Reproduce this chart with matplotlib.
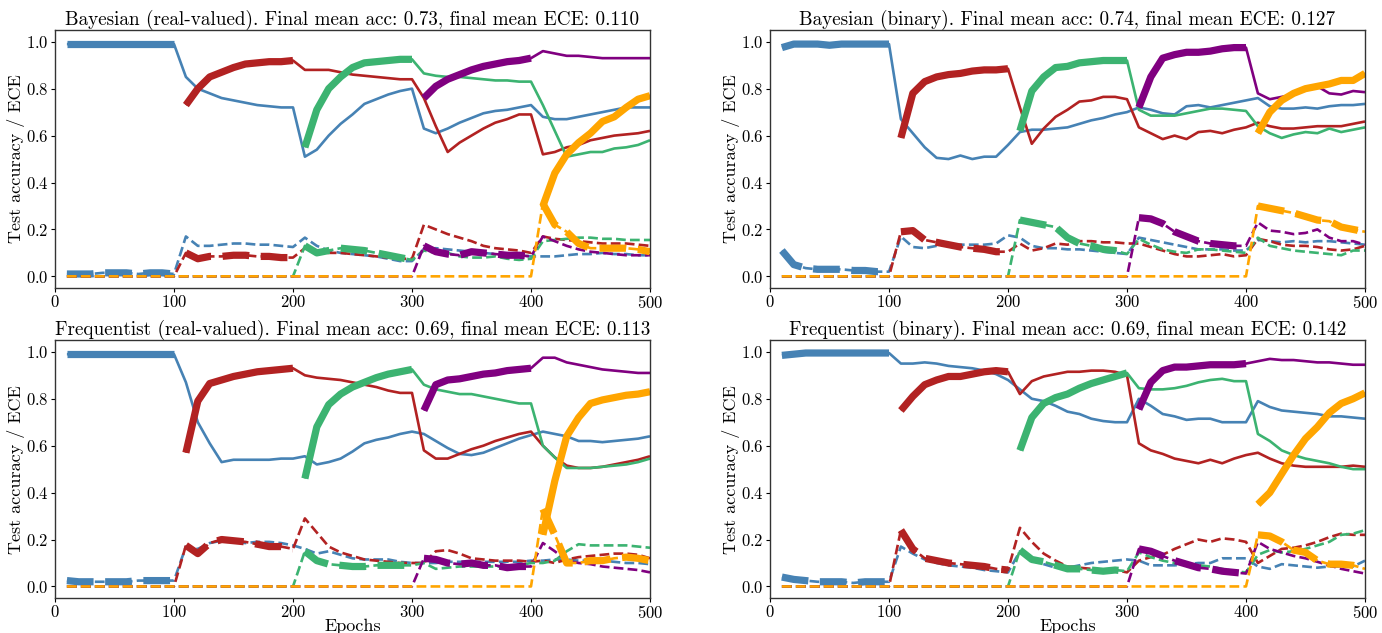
import numpy as np
import matplotlib
matplotlib.use("Agg")
import matplotlib.pyplot as plt

plt.rcParams['font.family'] = ['cmr10', 'DejaVu Serif']
plt.rcParams['axes.formatter.use_mathtext'] = True
plt.rcParams['mathtext.fontset'] = 'cm'

epochs = list(range(10, 510, 10))
colors = ['#4682B4', '#B22222', '#3CB371', '#800080', '#FFA500']
titles = ['Bayesian (real-valued). Final mean acc: 0.73, final mean ECE: 0.110',
          'Bayesian (binary). Final mean acc: 0.74, final mean ECE: 0.127',
          'Frequentist (real-valued). Final mean acc: 0.69, final mean ECE: 0.113',
          'Frequentist (binary). Final mean acc: 0.69, final mean ECE: 0.142']
xticks = [0, 100, 200, 300, 400, 500]
yticks = [0.0, 0.2, 0.4, 0.6, 0.8, 1.0]

# ---------- Bayesian (real-valued) ----------
# accuracy values listed from the first training epoch of each task
br_acc = [
    [0.99, 0.99, 0.99, 0.99, 0.99, 0.99, 0.99, 0.99, 0.99, 0.99,
     0.85, 0.80, 0.78, 0.76, 0.75, 0.74, 0.73, 0.725, 0.72, 0.72,
     0.51, 0.54, 0.60, 0.65, 0.69, 0.735, 0.755, 0.775, 0.79, 0.80,
     0.63, 0.61, 0.63, 0.655, 0.675, 0.695, 0.705, 0.71, 0.72, 0.73,
     0.68, 0.67, 0.67, 0.68, 0.69, 0.70, 0.71, 0.72, 0.72, 0.72],
    [0.73, 0.80, 0.85, 0.87, 0.89, 0.905, 0.91, 0.915, 0.915, 0.92,
     0.88, 0.88, 0.88, 0.87, 0.86, 0.855, 0.85, 0.845, 0.84, 0.84,
     0.76, 0.64, 0.53, 0.57, 0.60, 0.63, 0.655, 0.67, 0.69, 0.69,
     0.52, 0.53, 0.55, 0.56, 0.58, 0.59, 0.60, 0.605, 0.61, 0.62],
    [0.55, 0.71, 0.80, 0.85, 0.89, 0.91, 0.915, 0.92, 0.925, 0.925,
     0.865, 0.855, 0.85, 0.85, 0.845, 0.84, 0.835, 0.835, 0.83, 0.83,
     0.73, 0.62, 0.51, 0.52, 0.53, 0.53, 0.545, 0.55, 0.56, 0.58],
    [0.76, 0.81, 0.84, 0.86, 0.88, 0.895, 0.905, 0.915, 0.92, 0.93,
     0.96, 0.95, 0.94, 0.94, 0.935, 0.93, 0.93, 0.93, 0.93, 0.93],
    [0.30, 0.44, 0.52, 0.57, 0.61, 0.66, 0.68, 0.72, 0.755, 0.77],
]
# ECE values listed from the first training epoch (0.0 before it)
br_ece = [
    [0.01, 0.01, 0.01, 0.015, 0.015, 0.015, 0.01, 0.015, 0.015, 0.01,
     0.17, 0.13, 0.13, 0.135, 0.14, 0.14, 0.135, 0.135, 0.13, 0.125,
     0.165, 0.13, 0.11, 0.10, 0.095, 0.09, 0.085, 0.075, 0.065, 0.065,
     0.115, 0.12, 0.115, 0.11, 0.105, 0.10, 0.095, 0.09, 0.09, 0.085,
     0.085, 0.085, 0.09, 0.095, 0.095, 0.10, 0.095, 0.095, 0.09, 0.09],
    [0.10, 0.075, 0.085, 0.085, 0.09, 0.09, 0.085, 0.085, 0.08, 0.08,
     0.12, 0.105, 0.10, 0.10, 0.095, 0.09, 0.085, 0.08, 0.075, 0.075,
     0.22, 0.20, 0.18, 0.165, 0.15, 0.13, 0.12, 0.115, 0.11, 0.10,
     0.17, 0.16, 0.155, 0.15, 0.145, 0.14, 0.14, 0.14, 0.135, 0.13],
    [0.13, 0.10, 0.11, 0.12, 0.115, 0.11, 0.10, 0.09, 0.08, 0.07,
     0.11, 0.10, 0.10, 0.085, 0.08, 0.08, 0.085, 0.075, 0.07, 0.075,
     0.15, 0.155, 0.16, 0.165, 0.165, 0.16, 0.16, 0.155, 0.155, 0.155],
    [0.13, 0.105, 0.095, 0.09, 0.105, 0.10, 0.095, 0.09, 0.09, 0.085,
     0.17, 0.15, 0.13, 0.115, 0.105, 0.10, 0.095, 0.09, 0.09, 0.09],
    [0.31, 0.22, 0.19, 0.14, 0.12, 0.12, 0.12, 0.12, 0.115, 0.105],
]

# ---------- Bayesian (binary) ----------
bb_acc = [
    [0.975, 0.99, 0.99, 0.99, 0.985, 0.99, 0.99, 0.99, 0.99, 0.99,
     0.67, 0.61, 0.55, 0.505, 0.50, 0.515, 0.50, 0.51, 0.51, 0.56,
     0.615, 0.625, 0.625, 0.63, 0.635, 0.65, 0.665, 0.675, 0.69, 0.70,
     0.72, 0.71, 0.695, 0.69, 0.725, 0.73, 0.72, 0.73, 0.74, 0.75,
     0.76, 0.725, 0.715, 0.715, 0.72, 0.715, 0.725, 0.73, 0.73, 0.735],
    [0.59, 0.78, 0.83, 0.85, 0.86, 0.865, 0.875, 0.88, 0.88, 0.885,
     0.72, 0.565, 0.63, 0.68, 0.71, 0.745, 0.75, 0.765, 0.765, 0.755,
     0.635, 0.61, 0.585, 0.60, 0.585, 0.615, 0.62, 0.61, 0.625, 0.635,
     0.655, 0.64, 0.63, 0.63, 0.635, 0.64, 0.64, 0.64, 0.65, 0.66],
    [0.62, 0.79, 0.85, 0.89, 0.895, 0.91, 0.915, 0.92, 0.92, 0.92,
     0.71, 0.685, 0.685, 0.685, 0.695, 0.705, 0.715, 0.715, 0.71, 0.705,
     0.64, 0.61, 0.59, 0.605, 0.615, 0.61, 0.63, 0.615, 0.625, 0.635],
    [0.72, 0.85, 0.93, 0.945, 0.955, 0.955, 0.96, 0.97, 0.975, 0.975,
     0.78, 0.755, 0.765, 0.775, 0.80, 0.81, 0.78, 0.775, 0.79, 0.785],
    [0.61, 0.70, 0.75, 0.78, 0.80, 0.81, 0.82, 0.835, 0.835, 0.865],
]
bb_ece = [
    [0.11, 0.05, 0.035, 0.03, 0.03, 0.03, 0.025, 0.025, 0.02, 0.02,
     0.17, 0.125, 0.12, 0.13, 0.135, 0.135, 0.135, 0.135, 0.14, 0.175,
     0.165, 0.13, 0.12, 0.12, 0.115, 0.115, 0.11, 0.105, 0.10, 0.095,
     0.165, 0.155, 0.145, 0.135, 0.125, 0.115, 0.115, 0.115, 0.11, 0.11,
     0.155, 0.15, 0.145, 0.15, 0.145, 0.15, 0.15, 0.145, 0.14, 0.135],
    [0.19, 0.195, 0.155, 0.145, 0.135, 0.125, 0.12, 0.115, 0.105, 0.105,
     0.14, 0.11, 0.12, 0.14, 0.135, 0.15, 0.15, 0.145, 0.145, 0.14,
     0.14, 0.125, 0.11, 0.095, 0.085, 0.085, 0.09, 0.095, 0.085, 0.09,
     0.16, 0.15, 0.135, 0.13, 0.13, 0.125, 0.115, 0.11, 0.115, 0.13],
    [0.24, 0.23, 0.22, 0.21, 0.165, 0.14, 0.13, 0.115, 0.11, 0.095,
     0.16, 0.135, 0.115, 0.105, 0.10, 0.115, 0.115, 0.11, 0.105, 0.10,
     0.165, 0.13, 0.12, 0.11, 0.105, 0.10, 0.095, 0.09, 0.11, 0.11],
    [0.25, 0.245, 0.225, 0.19, 0.17, 0.15, 0.14, 0.135, 0.13, 0.13,
     0.23, 0.195, 0.19, 0.18, 0.185, 0.20, 0.165, 0.15, 0.15, 0.135],
    [0.30, 0.29, 0.28, 0.27, 0.255, 0.24, 0.235, 0.21, 0.20, 0.19],
]

# ---------- Frequentist (real-valued) ----------
fr_acc = [
    [0.99, 0.99, 0.99, 0.99, 0.99, 0.99, 0.99, 0.99, 0.99, 0.99,
     0.87, 0.70, 0.61, 0.53, 0.54, 0.54, 0.54, 0.54, 0.545, 0.545,
     0.555, 0.52, 0.53, 0.545, 0.575, 0.61, 0.625, 0.635, 0.65, 0.66,
     0.65, 0.62, 0.59, 0.565, 0.56, 0.57, 0.59, 0.61, 0.63, 0.645,
     0.66, 0.65, 0.64, 0.62, 0.62, 0.615, 0.62, 0.625, 0.63, 0.64],
    [0.57, 0.79, 0.865, 0.88, 0.895, 0.905, 0.915, 0.92, 0.925, 0.93,
     0.90, 0.89, 0.885, 0.88, 0.87, 0.86, 0.85, 0.835, 0.825, 0.825,
     0.58, 0.545, 0.545, 0.565, 0.585, 0.60, 0.62, 0.635, 0.65, 0.66,
     0.60, 0.55, 0.515, 0.505, 0.505, 0.51, 0.52, 0.53, 0.54, 0.555],
    [0.46, 0.68, 0.775, 0.82, 0.85, 0.87, 0.89, 0.905, 0.915, 0.925,
     0.86, 0.84, 0.83, 0.82, 0.82, 0.81, 0.80, 0.79, 0.78, 0.78,
     0.60, 0.55, 0.505, 0.505, 0.505, 0.51, 0.515, 0.52, 0.53, 0.545],
    [0.75, 0.86, 0.88, 0.885, 0.895, 0.905, 0.91, 0.92, 0.925, 0.93,
     0.975, 0.975, 0.955, 0.945, 0.935, 0.925, 0.92, 0.915, 0.91, 0.91],
    [0.22, 0.45, 0.64, 0.72, 0.78, 0.795, 0.805, 0.815, 0.82, 0.83],
]
fr_ece = [
    [0.025, 0.02, 0.02, 0.02, 0.02, 0.02, 0.025, 0.025, 0.025, 0.025,
     0.17, 0.16, 0.185, 0.195, 0.19, 0.185, 0.19, 0.19, 0.185, 0.175,
     0.16, 0.14, 0.15, 0.135, 0.12, 0.115, 0.115, 0.115, 0.105, 0.10,
     0.10, 0.10, 0.105, 0.105, 0.105, 0.105, 0.105, 0.105, 0.105, 0.11,
     0.11, 0.115, 0.115, 0.11, 0.11, 0.11, 0.105, 0.10, 0.10, 0.095],
    [0.175, 0.14, 0.185, 0.20, 0.195, 0.19, 0.18, 0.17, 0.17, 0.16,
     0.29, 0.23, 0.17, 0.145, 0.13, 0.115, 0.11, 0.105, 0.10, 0.10,
     0.10, 0.15, 0.155, 0.14, 0.12, 0.115, 0.11, 0.11, 0.11, 0.105,
     0.11, 0.10, 0.115, 0.125, 0.13, 0.135, 0.14, 0.14, 0.135, 0.12],
    [0.15, 0.11, 0.095, 0.09, 0.085, 0.085, 0.09, 0.09, 0.09, 0.09,
     0.10, 0.075, 0.08, 0.085, 0.085, 0.085, 0.085, 0.085, 0.09, 0.10,
     0.10, 0.11, 0.15, 0.18, 0.175, 0.175, 0.175, 0.175, 0.17, 0.165],
    [0.12, 0.115, 0.10, 0.095, 0.10, 0.09, 0.09, 0.08, 0.085, 0.085,
     0.185, 0.15, 0.11, 0.10, 0.095, 0.085, 0.08, 0.075, 0.07, 0.06],
    [0.33, 0.22, 0.10, 0.10, 0.11, 0.11, 0.12, 0.125, 0.12, 0.11],
]

# ---------- Frequentist (binary) ----------
fb_acc = [
    [0.985, 0.99, 0.995, 0.995, 0.995, 0.995, 0.995, 0.995, 0.995, 0.995,
     0.95, 0.95, 0.955, 0.95, 0.94, 0.935, 0.93, 0.92, 0.905, 0.88,
     0.84, 0.80, 0.79, 0.77, 0.745, 0.735, 0.715, 0.705, 0.70, 0.70,
     0.80, 0.77, 0.735, 0.725, 0.71, 0.715, 0.715, 0.70, 0.70, 0.70,
     0.79, 0.765, 0.75, 0.745, 0.74, 0.735, 0.725, 0.725, 0.72, 0.715],
    [0.75, 0.81, 0.86, 0.88, 0.895, 0.895, 0.905, 0.915, 0.92, 0.915,
     0.82, 0.875, 0.895, 0.905, 0.915, 0.915, 0.92, 0.92, 0.915, 0.90,
     0.61, 0.58, 0.565, 0.545, 0.535, 0.525, 0.54, 0.525, 0.545, 0.56,
     0.57, 0.545, 0.525, 0.515, 0.51, 0.51, 0.51, 0.51, 0.515, 0.51],
    [0.58, 0.72, 0.78, 0.805, 0.82, 0.845, 0.865, 0.88, 0.895, 0.91,
     0.845, 0.84, 0.84, 0.845, 0.855, 0.87, 0.88, 0.885, 0.875, 0.875,
     0.65, 0.62, 0.58, 0.56, 0.545, 0.535, 0.525, 0.51, 0.50, 0.50],
    [0.755, 0.87, 0.92, 0.935, 0.935, 0.94, 0.945, 0.945, 0.945, 0.95,
     0.96, 0.97, 0.965, 0.965, 0.96, 0.955, 0.955, 0.95, 0.945, 0.945],
    [0.35, 0.40, 0.48, 0.56, 0.63, 0.68, 0.74, 0.78, 0.80, 0.825],
]
fb_ece = [
    [0.04, 0.03, 0.025, 0.02, 0.02, 0.02, 0.015, 0.02, 0.02, 0.02,
     0.17, 0.14, 0.115, 0.10, 0.09, 0.085, 0.08, 0.07, 0.065, 0.06,
     0.15, 0.11, 0.095, 0.08, 0.08, 0.09, 0.10, 0.105, 0.11, 0.115,
     0.11, 0.09, 0.09, 0.09, 0.095, 0.10, 0.10, 0.12, 0.12, 0.12,
     0.085, 0.075, 0.095, 0.09, 0.085, 0.08, 0.085, 0.085, 0.085, 0.11],
    [0.24, 0.16, 0.12, 0.11, 0.10, 0.095, 0.09, 0.085, 0.075, 0.07,
     0.25, 0.19, 0.14, 0.11, 0.085, 0.08, 0.075, 0.07, 0.07, 0.06,
     0.11, 0.125, 0.135, 0.16, 0.18, 0.20, 0.19, 0.205, 0.20, 0.19,
     0.10, 0.13, 0.16, 0.165, 0.175, 0.19, 0.21, 0.225, 0.22, 0.22],
    [0.155, 0.115, 0.105, 0.09, 0.075, 0.075, 0.07, 0.065, 0.07, 0.065,
     0.145, 0.125, 0.11, 0.10, 0.095, 0.09, 0.085, 0.075, 0.065, 0.06,
     0.135, 0.155, 0.145, 0.15, 0.16, 0.175, 0.19, 0.22, 0.225, 0.24],
    [0.16, 0.15, 0.13, 0.11, 0.095, 0.08, 0.075, 0.065, 0.06, 0.055,
     0.19, 0.16, 0.145, 0.13, 0.12, 0.105, 0.09, 0.075, 0.065, 0.055],
    [0.22, 0.215, 0.19, 0.155, 0.145, 0.11, 0.095, 0.095, 0.09, 0.075],
]

panels = [(br_acc, br_ece), (bb_acc, bb_ece), (fr_acc, fr_ece), (fb_acc, fb_ece)]

fig, axes = plt.subplots(2, 2, figsize=(13.82, 6.33), dpi=100)
fig.subplots_adjust(left=0.0398, right=0.9877, top=0.9526, bottom=0.055,
                    wspace=0.2017, hspace=0.2016)

ep = np.array(epochs)
n = len(epochs)
per_task = 10
for k, ax in enumerate(axes.flat):
    acc_list, ece_list = panels[k]
    for t in range(5):
        c = colors[t]
        start = n - len(acc_list[t])
        acc = np.full(n, np.nan)
        acc[start:] = acc_list[t]
        ece = np.zeros(n)
        ece[start:] = ece_list[t]
        tr = slice(start, start + per_task)
        # thin lines (whole recorded history)
        ax.plot(ep, acc, color=c, lw=1.9, solid_capstyle='butt')
        ax.plot(ep, ece, color=c, lw=1.9, ls='--')
        # thick lines (training phase)
        ax.plot(ep[tr], acc[tr], color=c, lw=5.2, solid_capstyle='butt')
        ax.plot(ep[tr], ece[tr], color=c, lw=5.2, ls='--')
    ax.set_xlim(0, 500)
    ax.set_ylim(-0.05, 1.05)
    ax.set_xticks(xticks)
    ax.set_yticks(yticks)
    ax.set_title(titles[k], fontsize=13.8, pad=4)
    ax.set_ylabel('Test accuracy / ECE', fontsize=13, labelpad=1)
    if k >= 2:
        ax.set_xlabel('Epochs', fontsize=13, labelpad=-2)
    ax.tick_params(labelsize=12, length=3, width=0.8, direction='out', pad=1.5)
    for s in ax.spines.values():
        s.set_color('#333333')
        s.set_linewidth(1.0)

fig.savefig('out.png', dpi=100)
